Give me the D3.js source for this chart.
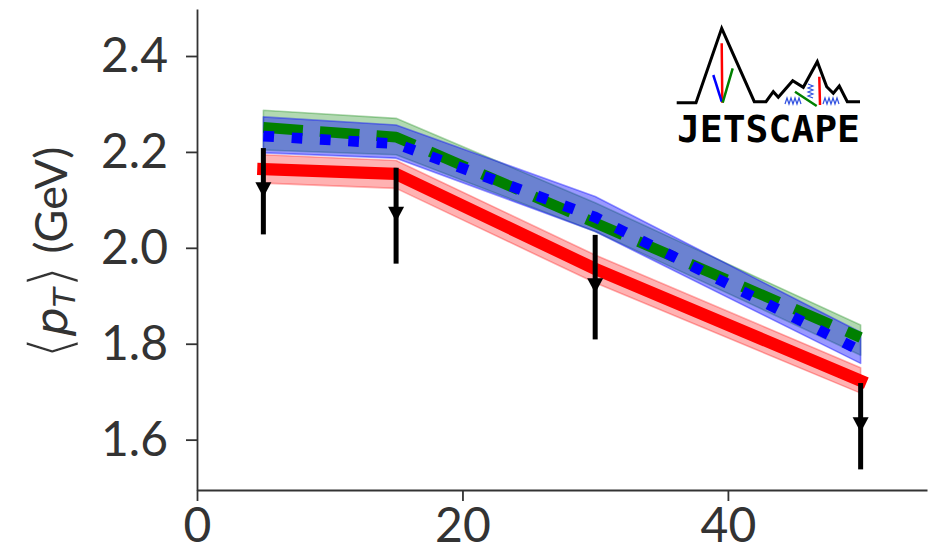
<!DOCTYPE html>
<html>
<head>
<meta charset="utf-8">
<script src="https://cdn.jsdelivr.net/npm/d3@7"></script>
<style>
  body { margin: 0; background: #fff; }
  svg { display: block; }
</style>
</head>
<body>
<svg id="chart" width="946" height="557"></svg>
<script>
// Centrality bins (midpoints, %)
const centrality = [5, 15, 30, 50];

// Measured <pT> with uncertainties
const dataMean = [2.118, 2.067, 1.918, 1.628];
const dataErr  = [0.090, 0.100, 0.109, 0.090];

// Model predictions: central values and uncertainty bands
const redMean   = [2.164, 2.154, 1.956, 1.723];
const redLow    = [2.135, 2.124, 1.927, 1.697];
const redHigh   = [2.194, 2.182, 1.985, 1.750];

const greenMean = [2.251, 2.231, 2.052, 1.813];
const greenLow  = [2.204, 2.194, 2.034, 1.776];
const greenHigh = [2.287, 2.270, 2.094, 1.839];

const blueMean  = [2.233, 2.217, 2.064, 1.785];
const blueLow   = [2.198, 2.187, 2.034, 1.759];
const blueHigh  = [2.273, 2.256, 2.107, 1.824];

// Axis ticks
const xTicks = [0, 20, 40];
const yTicks = [1.6, 1.8, 2.0, 2.2, 2.4];

const svg = d3.select("#chart");
svg.append("rect").attr("width", 946).attr("height", 557).attr("fill", "#fff");

const x = d3.scaleLinear().domain([0, 55]).range([197, 927]);
const y = d3.scaleLinear().domain([1.495, 2.498]).range([490, 9]);

const AXIS_COLOR = "#333";
const FONT = "Lato, 'Open Sans', sans-serif";

const rows = (mean, lo, hi) => centrality.map((c, i) => ({ c, m: mean[i], lo: lo[i], hi: hi[i] }));

const area = d3.area().x(d => x(d.c)).y0(d => y(d.lo)).y1(d => y(d.hi));
const line = d3.line().x(d => x(d.c)).y(d => y(d.m));

const plot = svg.append("g");

// Uncertainty bands
function band(data, color, alpha) {
  plot.append("path").datum(data)
    .attr("d", area)
    .attr("fill", color).attr("fill-opacity", alpha)
    .attr("stroke", color).attr("stroke-opacity", alpha)
    .attr("stroke-width", 1.6).attr("stroke-linejoin", "round");
}
const redRows = rows(redMean, redLow, redHigh);
const greenRows = rows(greenMean, greenLow, greenHigh);
const blueRows = rows(blueMean, blueLow, blueHigh);

band(redRows, "#ff0000", 0.3);
band(greenRows, "#008000", 0.3);
band(blueRows, "#0000ff", 0.4);

// Central curves
plot.append("path").datum(redRows).attr("d", line)
  .attr("fill", "none").attr("stroke", "#ff0000").attr("stroke-width", 12.3)
  .attr("stroke-linecap", "square").attr("stroke-linejoin", "round");

plot.append("path").datum(greenRows).attr("d", line)
  .attr("fill", "none").attr("stroke", "#008000").attr("stroke-width", 10.7)
  .attr("stroke-dasharray", "39.6,17.1").attr("stroke-linecap", "butt").attr("stroke-linejoin", "round");

plot.append("path").datum(blueRows).attr("d", line)
  .attr("fill", "none").attr("stroke", "#0000ff").attr("stroke-width", 10.7)
  .attr("stroke-dasharray", "10.7,17.65").attr("stroke-linecap", "butt").attr("stroke-linejoin", "round");

// Data points with error bars
const pts = centrality.map((c, i) => ({ c, m: dataMean[i], e: dataErr[i] }));
const pg = plot.append("g").selectAll("g").data(pts).join("g");
pg.append("line")
  .attr("x1", d => x(d.c)).attr("x2", d => x(d.c))
  .attr("y1", d => y(d.m + d.e)).attr("y2", d => y(d.m - d.e))
  .attr("stroke", "#000").attr("stroke-width", 5);
pg.append("path")
  .attr("d", d => {
    const cx = x(d.c), cy = y(d.m) - 1.5, w = 8, h = 7.5;
    return `M${cx - w},${cy - h}L${cx + w},${cy - h}L${cx},${cy + h}Z`;
  })
  .attr("fill", "#000");

// Axes
const yAxis = svg.append("g").attr("transform", "translate(197,0)")
  .call(d3.axisLeft(y).tickValues(yTicks).tickFormat(d3.format(".1f"))
    .tickSize(11).tickSizeOuter(0).tickPadding(18));
const xAxis = svg.append("g").attr("transform", "translate(0,490)")
  .call(d3.axisBottom(x).tickValues(xTicks).tickFormat(d3.format("d"))
    .tickSize(11).tickSizeOuter(0).tickPadding(7));

[yAxis, xAxis].forEach(g => {
  g.select(".domain").attr("stroke", AXIS_COLOR).attr("stroke-width", 1.8);
  g.selectAll(".tick line").attr("stroke", AXIS_COLOR).attr("stroke-width", 1.8);
  g.selectAll(".tick text").attr("fill", AXIS_COLOR)
    .style("font-family", FONT).style("font-size", "48px");
});

// Y-axis title: <pT> (GeV); the angle brackets are thinned with a white outline
const yt = svg.append("text")
  .attr("transform", "translate(67,253) rotate(-90)")
  .attr("text-anchor", "middle")
  .attr("fill", AXIS_COLOR)
  .style("font-size", "45px");
yt.append("tspan").style("font-family", "'DejaVu Sans'")
  .style("font-size", "60px").attr("stroke", "#fff").attr("stroke-width", 2.4)
  .attr("dy", 4).text("\u27E8");
yt.append("tspan").style("font-family", "'DejaVu Sans'").style("font-style", "italic")
  .attr("dy", -4).text("p");
yt.append("tspan").style("font-family", "'DejaVu Sans'").style("font-style", "italic")
  .style("font-size", "31px").attr("dy", 8).text("T");
yt.append("tspan").style("font-family", "'DejaVu Sans'")
  .style("font-size", "60px").attr("stroke", "#fff").attr("stroke-width", 2.4)
  .attr("dy", -4).text("\u27E9");
yt.append("tspan").style("font-family", FONT).attr("dy", -4).text(" (GeV)");

// Collaboration logo
const logo = svg.append("g");
logo.append("path")
  .attr("d", "M676.7,102.7L696,102.7L721.7,28.3L754.3,101.7L766,101.7L773.3,91.7L778.3,97.3L792.7,80.7L803.3,87.3L817.3,61.7L826.7,86.7L833.3,93.3L839.3,86L847.3,101.7L860,101.7")
  .attr("fill", "none").attr("stroke", "#000").attr("stroke-width", 3).attr("stroke-linejoin", "miter");
logo.append("path").attr("d", "M721.7,43.3L722.3,102.7M819.3,76.7L820,105")
  .attr("stroke", "#ff0000").attr("stroke-width", 2.5).attr("fill", "none");
logo.append("path").attr("d", "M713.3,75L721.7,101.7")
  .attr("stroke", "#0000ff").attr("stroke-width", 2.5).attr("fill", "none");
logo.append("path").attr("d", "M732.7,68.3L722.7,102.7M795,91.7L816.7,106")
  .attr("stroke", "#008000").attr("stroke-width", 2.5).attr("fill", "none");
logo.append("path")
  .attr("d", "M785,104L787,98L789,104L791,98L793,104L795,98L797,104L799,98L801,104M808,84L813,86L808,88L813,90L808,92L813,94L808,96L813,98M823,104L825,98L827,104L829,98L831,104L833,98L835,104L837,98L839,104")
  .attr("stroke", "#3050e0").attr("stroke-width", 1.2).attr("fill", "none");
logo.append("text")
  .attr("x", 677).attr("y", 141.7)
  .attr("textLength", 183).attr("lengthAdjust", "spacingAndGlyphs")
  .style("font-family", "'DejaVu Sans Mono', monospace").style("font-weight", "bold")
  .style("font-size", "37px").attr("fill", "#000")
  .text("JETSCAPE");
</script>
</body>
</html>
